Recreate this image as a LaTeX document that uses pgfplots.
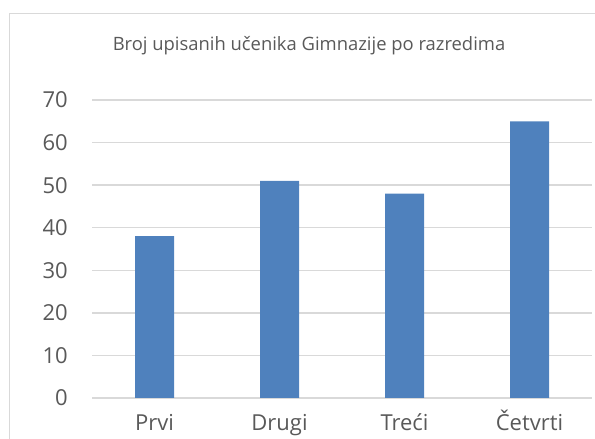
\documentclass[border=0pt]{standalone}
\usepackage{pgfplots}
\pgfplotsset{compat=1.18}
\usepackage{fontspec}
\setmainfont{Open Sans}
\definecolor{barblue}{HTML}{4F81BD}
\definecolor{gridgray}{HTML}{D9D9D9}
\definecolor{textgray}{HTML}{595959}
\begin{document}
\begin{tikzpicture}[x=1pt,y=1pt]
\clip (0,0) rectangle (595,439);
\draw[gridgray, line width=1.5pt] (9.5,-20) rectangle (620,425.5);
\node[textgray, anchor=base, font=\fontsize{18.4}{21}\selectfont] at (309,388) {Broj upisanih učenika Gimnazije po razredima};
\begin{axis}[
   at={(92pt,41pt)}, anchor=south west,
   scale only axis,
   width=500pt, height=298pt,
   xmin=-0.5, xmax=3.5,
   ymin=0, ymax=70,
   ytick={0,10,...,70},
   xtick={0,1,2,3},
   xticklabels={Prvi,Drugi,Treći,Četvrti},
   major tick length=0pt,
   axis line style={draw=none},
   ymajorgrids,
   grid style={gridgray, line width=1.5pt},
   /pgf/number format/assume math mode=true,
   tick label style={textgray, font=\fontsize{22}{25}\selectfont},
   yticklabel style={anchor=east, inner sep=0pt, xshift=-24pt},
   xticklabel style={anchor=base, inner sep=0pt, yshift=-33pt},
   ybar, bar width=39pt,
 ]
 \addplot[fill=barblue, draw=none] coordinates {(0,38) (1,51) (2,48) (3,65)};
\end{axis}
\end{tikzpicture}
\end{document}
